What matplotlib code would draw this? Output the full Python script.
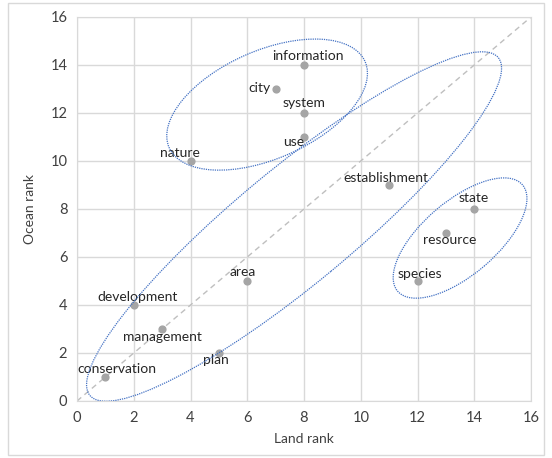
import matplotlib
matplotlib.use("Agg")
import matplotlib.pyplot as plt
from matplotlib.patches import Ellipse, Rectangle
from matplotlib.transforms import ScaledTranslation

plt.rcParams['font.family'] = ['Lato', 'DejaVu Sans']

# data
words = ['conservation', 'development', 'management', 'plan', 'area', 'nature',
         'city', 'information', 'system', 'use', 'establishment', 'state',
         'resource', 'species']
land_rank = [1, 2, 3, 5, 6, 4, 7, 8, 8, 8, 11, 14, 13, 12]
ocean_rank = [1, 4, 3, 2, 5, 10, 13, 14, 12, 11, 9, 8, 7, 5]

# label offsets from each point, pixels (x right, y up)
label_dx = [12, 4, 0, -3, -5, -11, -16, 4, 0, -10, -3, -1, 4, 2]
label_dy = [8, 8, -8, -7, 9, 8, 1, 9, 10, -5, 7, 11, -7, 7]

# hand-drawn groups: centre (data), semi-axes (px), angle (deg)
groups = [
    ((6.70, 12.35), 107, 54, 23.7),
    ((7.65, 7.27), 265, 58, 39.6),
    ((13.50, 6.79), 82, 37, 40.4),
]

fig = plt.figure(figsize=(5.52, 4.58), dpi=100)
ax = fig.add_axes([77 / 552, 57 / 458, 454 / 552, 384 / 458])

grid_c = '#D9D9D9'
ax.set_xlim(0, 16)
ax.set_ylim(0, 16)
ax.set_xticks(range(0, 17, 2))
ax.set_yticks(range(0, 17, 2))
ax.grid(True, color=grid_c, linewidth=1)
ax.set_axisbelow(True)
for s in ax.spines.values():
    s.set_color(grid_c)
ax.tick_params(length=0, labelsize=10.5, colors='#404040', pad=7)

ax.plot([0, 16], [0, 16], linestyle=(0, (4, 3)), color='#BFBFBF', linewidth=1)

ax.scatter(land_rank, ocean_rank, s=24, color='#A5A5A5', zorder=3)
for w, x, y, dx, dy in zip(words, land_rank, ocean_rank, label_dx, label_dy):
    ax.annotate(w, (x, y), xytext=(dx, dy), textcoords='offset pixels',
                ha='center', va='center', fontsize=10, color='#262626', zorder=4)

for (cx, cy), a, b, ang in groups:
    tr = fig.dpi_scale_trans + ScaledTranslation(cx, cy, ax.transData)
    e = Ellipse((0, 0), 2 * a / 100, 2 * b / 100, angle=ang, transform=tr,
                fill=False, edgecolor='#4472C4', linestyle=(0, (1, 0.8)),
                linewidth=0.9, zorder=5)
    ax.add_patch(e)

ax.set_xlabel('Land rank', fontsize=10, color='#404040', labelpad=6)
ax.set_ylabel('Ocean rank', fontsize=10, color='#404040', labelpad=10)

fig.patches.append(Rectangle((8 / 552, 3 / 458), 536 / 552, 452 / 458,
                             transform=fig.transFigure, fill=False,
                             edgecolor='#D9D9D9', linewidth=1))

fig.savefig('out.png', dpi=100)
